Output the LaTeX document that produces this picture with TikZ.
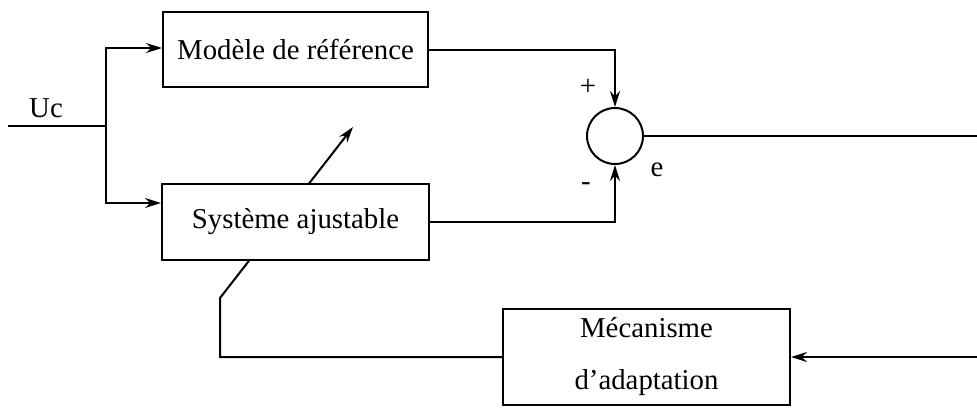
\documentclass[tikz,border=0pt]{standalone}
\usepackage{fontspec}
\setmainfont{Liberation Serif}
\usetikzlibrary{arrows.meta,backgrounds}

\begin{document}
\begin{tikzpicture}[x=0.5pt,y=-0.5pt,
  wire/.style={line width=1pt},
  blk/.style={draw, wire, fill=white, inner sep=0pt, align=center,
              font=\fontsize{14.4}{26}\selectfont},
  sumnode/.style={draw, wire, circle, minimum size=28pt, inner sep=0pt},
  arr/.style={wire, -{Stealth[length=8pt,width=5pt]}},
  lbl/.style={inner sep=0pt, font=\fontsize{14.4}{17}\selectfont}]
\useasboundingbox (0,0) rectangle (977,408);

% blocks
\node[blk, minimum width=132.5pt, minimum height=37.5pt] (model) at (295.5,49.5) {Modèle de référence};
\node[blk, minimum width=133.5pt, minimum height=38pt] (sys) at (295.5,222) {Système ajustable};
\node[blk, minimum width=143.5pt, minimum height=48pt] (mec) at (646.5,357) {Mécanisme\\d’adaptation};
\node[sumnode] (sum) at (615,136) {};

% free ends
\coordinate (in) at (8,126);
\coordinate (br) at (106,126);
\coordinate (outR) at (977,136);
\coordinate (fbR) at (977,357);
\coordinate (adjknee) at (220,298);
\coordinate (adjtip) at (353,127);

% input branch
\draw[wire] (in) -- (br);
\draw[arr] (br) |- ([yshift=0.75pt]model.west);
\draw[arr] (br) |- ([yshift=9.5pt]sys.west);

% comparator
\draw[arr] (model.east) -| (sum.north);
\draw[arr] (sys.east) -| (sum.south);
\draw[wire] (sum.east) -- (outR);

% adaptation loop; the adjustment arrow runs behind the adjustable block
\draw[arr] (fbR) -- (mec.east);
\begin{scope}[on background layer]
  \draw[arr, line join=miter] (mec.west) -| (adjknee) -- (adjtip);
\end{scope}

% labels
\node[lbl] (uc) at (46,108) {Uc};
\node[lbl] (plus) at (588,87) {+};
\node[lbl] (minus) at (586,187) {-};
\node[lbl] (err) at (657,170) {e};
\end{tikzpicture}
\end{document}
